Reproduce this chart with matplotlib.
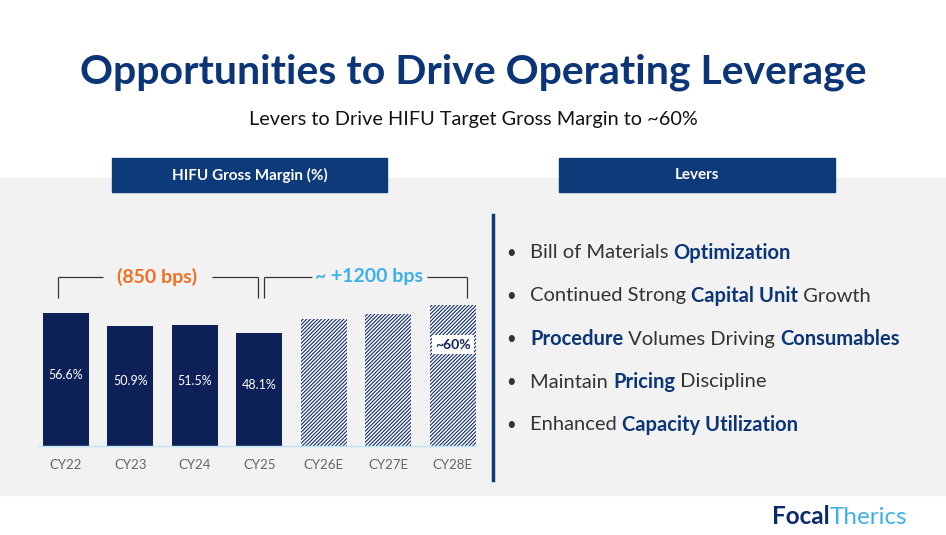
import matplotlib
matplotlib.use('Agg')
import matplotlib.pyplot as plt
from matplotlib.patches import Rectangle

years = ['CY22', 'CY23', 'CY24', 'CY25', 'CY26E', 'CY27E', 'CY28E']
margins = [56.6, 50.9, 51.5, 48.1, 54.0, 56.0, 60.0]
labels = ['56.6%', '50.9%', '51.5%', '48.1%', '', '', '']
levers = [
    [('Bill of Materials ', False), ('Optimization', True)],
    [('Continued Strong ', False), ('Capital Unit', True), (' Growth', False)],
    [('Procedure', True), (' Volumes Driving ', False), ('Consumables', True)],
    [('Maintain ', False), ('Pricing', True), (' Discipline', False)],
    [('Enhanced ', False), ('Capacity Utilization', True)],
]

NAVY = '#0b2a6b'
DARK = '#0d2057'
W, H = 946, 535
plt.rcParams['font.family'] = ['Lato', 'DejaVu Sans']
plt.rcParams['hatch.linewidth'] = 0.8
fig = plt.figure(figsize=(W / 100, H / 100), dpi=100)
fig.patch.set_facecolor('white')

def fx(x): return x / W
def fy(y): return 1 - y / H

# grey band
fig.patches.append(Rectangle((0, fy(495)), 1, (495 - 178) / H, transform=fig.transFigure,
                             color='#f2f2f2', zorder=-2))
# header boxes
for x0, x1, txt in [(112, 387, 'HIFU Gross Margin (%)'), (559, 835, 'Levers')]:
    fig.patches.append(Rectangle((fx(x0), fy(192)), (x1 - x0) / W, 34 / H,
                                 transform=fig.transFigure, color='#0d3a78', zorder=1))
    fig.text(fx((x0 + x1) / 2), fy(175), txt, color='white', fontsize=11,
             fontweight='bold', ha='center', va='center')

fig.text(0.5, fy(72), 'Opportunities to Drive Operating Leverage', color='#0b3577',
         fontsize=29.5, fontweight='bold', ha='center', va='center')
fig.text(0.5, fy(120), 'Levers to Drive HIFU Target Gross Margin to ~60%', color='#111111',
         fontsize=14.3, ha='center', va='center')

# chart
ax = fig.add_axes([fx(38), fy(448), 440 / W, 190 / H])
ax.set_zorder(2)
ax.set_facecolor('none')
x = list(range(len(years)))
for i, (v, lab) in enumerate(zip(margins, labels)):
    if lab:
        ax.bar(i, v, width=0.71, color=DARK, zorder=2)
        ax.text(i, v / 2 + 2, lab, color='white', fontsize=9, ha='center', va='center')
    else:
        ax.bar(i, v, width=0.71, color='white', edgecolor=NAVY, hatch='/////////',
               linewidth=0, zorder=2)
ax.text(6, 43, '~60%', color=DARK, fontsize=10, fontweight='bold', ha='center', va='center',
        bbox=dict(facecolor='white', edgecolor='none', pad=2.5), zorder=3)
ax.axhline(0, color='#bfe3f7', lw=1)
ax.set_xlim(-0.43, 6.39)
ax.set_ylim(-1, 80)
ax.set_xticks(x)
ax.set_xticklabels(years, color='#666666', fontsize=9.5)
ax.tick_params(length=0, pad=8)
ax.set_yticks([])
for s in ax.spines.values():
    s.set_visible(False)

# brackets
def bracket(x0, x1, gap0, gap1):
    kw = dict(color='#333333', lw=0.9, solid_capstyle='butt')
    ax.plot([x0, x0], [63, 72], **kw)
    ax.plot([x1, x1], [63, 72], **kw)
    ax.plot([x0, gap0], [72, 72], **kw)
    ax.plot([gap1, x1], [72, 72], **kw)
bracket(-0.12, 2.98, 0.57, 2.26)
bracket(3.08, 6.22, 3.81, 5.6)
ax.text(1.41, 72, '(850 bps)', color='#f07023', fontsize=14, fontweight='bold',
        ha='center', va='center')
ax.text(4.7, 72, '~ +1200 bps', color='#3db0ea', fontsize=14, fontweight='bold',
        ha='center', va='center')

# divider
fig.lines.append(plt.Line2D([fx(493), fx(493)], [fy(215), fy(480)], color='#0d3a78',
                            lw=2.5, transform=fig.transFigure))

# levers
fig.canvas.draw()
r = fig.canvas.get_renderer()
for k, parts in enumerate(levers):
    y = fy(253 + 43 * k)
    fig.text(fx(506), y, '•', color='#333333', fontsize=12, va='center')
    xp = fx(530)
    for txt, b in parts:
        t = fig.text(xp, y, txt, color='#0b3577' if b else '#333333', fontsize=14.5,
                     fontweight='bold' if b else 'normal', va='center')
        bb = t.get_window_extent(r)
        xp += bb.width / W

# logo
t = fig.text(fx(772), fy(517), 'Focal', color='#0b2a6b', fontsize=17.5, fontweight='bold',
             va='center')
bb = t.get_window_extent(r)
fig.text(fx(772) + bb.width / W, fy(517), 'Therics', color='#3db0ea', fontsize=17.5,
         va='center')

fig.savefig('out.png', dpi=100)
